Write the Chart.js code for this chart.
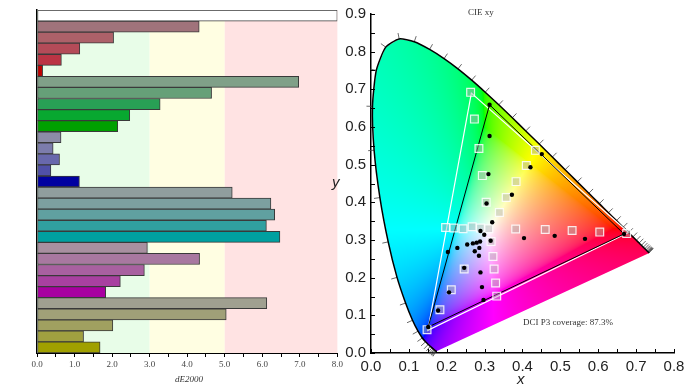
<!DOCTYPE html>
<html>
<head>
<meta charset="utf-8">
<script src="https://cdn.jsdelivr.net/npm/chart.js@4/dist/chart.umd.min.js"></script>
<style>
  html, body { margin: 0; padding: 0; background: #fff; }
  #wrap { position: relative; width: 693px; height: 390px; overflow: hidden; }
  canvas { position: absolute; top: 0; }
  #left { left: 0; }
  #right { left: 330px; }
  .lbl { position: absolute; white-space: nowrap; color: #333; line-height: 1; }
  .serif { font-family: 'Liberation Serif', serif; font-size: 9px; }
  .axt { font-family: 'Liberation Sans', Arial, sans-serif; font-size: 15px; font-style: italic; color: #222; }
</style>
</head>
<body>
<div id="wrap">
  <canvas id="left" width="345" height="390"></canvas>
  <canvas id="right" width="363" height="390"></canvas>
  <div class="lbl serif" style="left:468px; top:8px;">CIE xy</div>
  <div class="lbl serif" style="left:523px; top:318px;">DCI P3 coverage: 87.3%</div>
  <div class="lbl serif" style="left:175px; top:375px; font-style:italic;">dE2000</div>
  <div class="lbl axt" style="left:517px; top:371px;">x</div>
  <div class="lbl axt" style="left:332px; top:174px;">y</div>
</div>
<script>
// ---- dE2000 bars (left) ----
const patchNames = [
  'White',
  'Red 20', 'Red 40', 'Red 60', 'Red 80', 'Red 100',
  'Green 20', 'Green 40', 'Green 60', 'Green 80', 'Green 100',
  'Blue 20', 'Blue 40', 'Blue 60', 'Blue 80', 'Blue 100',
  'Cyan 20', 'Cyan 40', 'Cyan 60', 'Cyan 80', 'Cyan 100',
  'Magenta 20', 'Magenta 40', 'Magenta 60', 'Magenta 80', 'Magenta 100',
  'Yellow 20', 'Yellow 40', 'Yellow 60', 'Yellow 80', 'Yellow 100'
];
const dEValues = [
  8.0,
  4.32, 2.04, 1.14, 0.65, 0.15,
  6.97, 4.65, 3.28, 2.47, 2.15,
  0.64, 0.43, 0.60, 0.37, 1.13,
  5.20, 6.23, 6.33, 6.11, 6.47,
  2.94, 4.33, 2.86, 2.22, 1.83,
  6.12, 5.04, 2.02, 1.24, 1.68
];
const barColors = [
  '#ffffff',
  '#a0737b', '#ad6169', '#b44b58', '#bb3444', '#c00000',
  '#80a088', '#66a078', '#28a055', '#08a830', '#00a000',
  '#8c8ca8', '#7c7cac', '#6868ac', '#5050a8', '#0000a0',
  '#909e9e', '#7ca0a0', '#60a0a0', '#30a0a0', '#00a0a0',
  '#a890a0', '#a878a0', '#a860a0', '#a840a0', '#a800a0',
  '#a0a090', '#a0a078', '#a0a060', '#a0a040', '#a0a000'
];
const dEZones = [[0, 3, '#e8fde8'], [3, 5, '#fffee2'], [5, 8, '#ffe3e3']];

// ---- CIE xy (right) ----
// CIE 1931 2° spectral locus, 380–700 nm every 5 nm
const locus = [
  [0.1741,0.0050],[0.1740,0.0050],[0.1738,0.0049],[0.1736,0.0049],[0.1733,0.0048],
  [0.1730,0.0048],[0.1726,0.0048],[0.1721,0.0048],[0.1714,0.0051],[0.1703,0.0058],
  [0.1689,0.0069],[0.1669,0.0086],[0.1644,0.0109],[0.1611,0.0138],[0.1566,0.0177],
  [0.1510,0.0227],[0.1440,0.0297],[0.1355,0.0399],[0.1241,0.0578],[0.1096,0.0868],
  [0.0913,0.1327],[0.0687,0.2007],[0.0454,0.2950],[0.0235,0.4127],[0.0082,0.5384],
  [0.0039,0.6548],[0.0139,0.7502],[0.0389,0.8120],[0.0743,0.8338],[0.1142,0.8262],
  [0.1547,0.8059],[0.1929,0.7816],[0.2296,0.7543],[0.2658,0.7243],[0.3016,0.6923],
  [0.3373,0.6589],[0.3731,0.6245],[0.4087,0.5896],[0.4441,0.5547],[0.4788,0.5202],
  [0.5125,0.4866],[0.5448,0.4544],[0.5752,0.4242],[0.6029,0.3965],[0.6270,0.3725],
  [0.6482,0.3514],[0.6658,0.3340],[0.6801,0.3197],[0.6915,0.3083],[0.7006,0.2993],
  [0.7079,0.2920],[0.7140,0.2859],[0.7190,0.2809],[0.7230,0.2770],[0.7260,0.2740],
  [0.7283,0.2717],[0.7300,0.2700],[0.7311,0.2689],[0.7320,0.2680],[0.7327,0.2673],
  [0.7334,0.2666],[0.7340,0.2660],[0.7344,0.2656],[0.7346,0.2654],[0.7347,0.2653]
];
const p3Gamut = [[0.680, 0.320], [0.265, 0.690], [0.150, 0.060]];
const measuredGamut = [[0.668, 0.316], [0.313, 0.659], [0.151, 0.069]];
const targetX = [0.263, 0.273, 0.285, 0.294, 0.304, 0.434, 0.410, 0.383, 0.357, 0.339,
  0.197, 0.219, 0.243, 0.267, 0.289, 0.311, 0.382, 0.460, 0.531, 0.604, 0.675,
  0.317, 0.322, 0.325, 0.329, 0.332, 0.246, 0.212, 0.182, 0.148];
const targetY = [0.692, 0.621, 0.543, 0.471, 0.400, 0.538, 0.498, 0.455, 0.413, 0.373,
  0.333, 0.332, 0.330, 0.335, 0.332, 0.330, 0.329, 0.328, 0.325, 0.321, 0.317,
  0.296, 0.256, 0.223, 0.186, 0.151, 0.223, 0.168, 0.115, 0.062];
const measuredX = [0.313, 0.313, 0.310, 0.305, 0.451, 0.421, 0.372, 0.320, 0.289, 0.299,
  0.404, 0.485, 0.565, 0.668, 0.316, 0.288, 0.279, 0.269, 0.254, 0.228, 0.286, 0.274,
  0.203, 0.285, 0.246, 0.289, 0.293, 0.297, 0.206, 0.177, 0.151];
const measuredY = [0.659, 0.576, 0.475, 0.397, 0.528, 0.493, 0.420, 0.347, 0.324, 0.314,
  0.305, 0.311, 0.303, 0.316, 0.298, 0.296, 0.293, 0.291, 0.288, 0.279, 0.279, 0.270,
  0.268, 0.258, 0.226, 0.214, 0.175, 0.141, 0.161, 0.113, 0.069];

const toPts = (xs, ys) => xs.map((x, i) => ({ x, y: ys[i] }));
const closed = tri => tri.concat([tri[0]]).map(p => ({ x: p[0], y: p[1] }));

// colored zones behind the bars
const zonesPlugin = {
  id: 'zones',
  beforeDatasetsDraw(chart) {
    const { ctx, chartArea: a, scales: { x } } = chart;
    ctx.save();
    dEZones.forEach(([from, to, color]) => {
      const x0 = x.getPixelForValue(from), x1 = x.getPixelForValue(to);
      ctx.fillStyle = color;
      ctx.fillRect(x0, a.top, x1 - x0, a.bottom - a.top);
    });
    ctx.restore();
  }
};

new Chart(document.getElementById('left'), {
  type: 'bar',
  data: {
    labels: patchNames,
    datasets: [{
      data: dEValues,
      backgroundColor: barColors,
      borderColor: '#3a3a3a',
      borderWidth: 1,
      borderSkipped: false,
      barPercentage: 1,
      categoryPercentage: 1
    }]
  },
  options: {
    indexAxis: 'y',
    responsive: false,
    animation: false,
    layout: { padding: { top: 10, right: 4, left: 0, bottom: 0 } },
    plugins: { legend: { display: false }, tooltip: { enabled: false } },
    scales: {
      x: {
        min: 0, max: 8,
        afterFit(s) { s.height = 37; },
        border: { color: '#000', width: 1 },
        grid: { drawOnChartArea: false, tickLength: 4, color: '#000' },
        ticks: {
          stepSize: 0.5, autoSkip: false, maxRotation: 0, padding: 2,
          color: '#444', font: { family: 'Liberation Serif', size: 9 },
          callback: v => (Math.abs(v - Math.round(v)) < 1e-6 ? v.toFixed(1) : '')
        }
      },
      y: {
        afterFit(s) { s.width = 37; },
        border: { color: '#000', width: 1.5 },
        grid: { drawOnChartArea: false, drawTicks: false },
        ticks: { display: false }
      }
    }
  },
  plugins: [zonesPlugin]
});

// chromaticity -> display colour (out-of-gamut desaturated by adding white)
function xyToRgb(x, y) {
  if (y <= 0.0001) return [255, 255, 255];
  const X = x / y, Y = 1, Z = (1 - x - y) / y;
  let r = 3.2406 * X - 1.5372 * Y - 0.4986 * Z;
  let g = -0.9689 * X + 1.8758 * Y + 0.0415 * Z;
  let b = 0.0557 * X - 0.2040 * Y + 1.0570 * Z;
  const lo = Math.min(r, g, b, 0);
  r -= lo; g -= lo; b -= lo;
  const m = Math.max(r, g, b) || 1;
  const gam = c => {
    c = c / m;
    return Math.round(255 * (c <= 0.0031308 ? 12.92 * c : 1.055 * Math.pow(c, 1 / 2.4) - 0.055));
  };
  return [gam(r), gam(g), gam(b)];
}

const gamutPlugin = {
  id: 'gamutFill',
  beforeDatasetsDraw(chart) {
    const { ctx, chartArea: a, scales: { x, y } } = chart;
    const w = Math.ceil(a.right - a.left), h = Math.ceil(a.bottom - a.top);
    const off = document.createElement('canvas');
    off.width = w; off.height = h;
    const octx = off.getContext('2d');
    const img = octx.createImageData(w, h);
    for (let j = 0; j < h; j++) {
      const cy = y.getValueForPixel(a.top + j + 0.5);
      for (let i = 0; i < w; i++) {
        const cx = x.getValueForPixel(a.left + i + 0.5);
        const [r, g, b] = xyToRgb(cx, cy);
        const k = (j * w + i) * 4;
        img.data[k] = r; img.data[k + 1] = g; img.data[k + 2] = b; img.data[k + 3] = 255;
      }
    }
    octx.putImageData(img, 0, 0);

    ctx.save();
    ctx.beginPath();
    locus.forEach((p, k) => {
      const px = x.getPixelForValue(p[0]), py = y.getPixelForValue(p[1]);
      k ? ctx.lineTo(px, py) : ctx.moveTo(px, py);
    });
    ctx.closePath();
    ctx.clip();
    ctx.drawImage(off, a.left, a.top);
    ctx.restore();

    // wavelength ticks pointing outward
    ctx.save();
    ctx.strokeStyle = '#444';
    ctx.lineWidth = 0.8;
    const wx = x.getPixelForValue(0.3333), wy = y.getPixelForValue(0.3333);
    for (let k = 1; k < locus.length - 1; k++) {
      const px = x.getPixelForValue(locus[k][0]), py = y.getPixelForValue(locus[k][1]);
      const tx = x.getPixelForValue(locus[k + 1][0]) - x.getPixelForValue(locus[k - 1][0]);
      const ty = y.getPixelForValue(locus[k + 1][1]) - y.getPixelForValue(locus[k - 1][1]);
      let nx = -ty, ny = tx;
      const len = Math.hypot(nx, ny);
      if (len < 0.5) continue;
      nx /= len; ny /= len;
      if ((px - wx) * nx + (py - wy) * ny < 0) { nx = -nx; ny = -ny; }
      ctx.beginPath();
      ctx.moveTo(px, py);
      ctx.lineTo(px + nx * 6, py + ny * 6);
      ctx.stroke();
    }
    ctx.restore();
  },
  afterDraw(chart) {
    // inward minor ticks every 0.05
    const { ctx, chartArea: a, scales: { x, y } } = chart;
    ctx.save();
    ctx.strokeStyle = '#000';
    ctx.lineWidth = 1;
    for (let v = 0; v <= 0.8001; v += 0.05) {
      const px = Math.round(x.getPixelForValue(v)) + 0.5;
      ctx.beginPath(); ctx.moveTo(px, a.bottom); ctx.lineTo(px, a.bottom - 4); ctx.stroke();
    }
    for (let v = 0; v <= 0.9001; v += 0.05) {
      const py = Math.round(y.getPixelForValue(v)) + 0.5;
      ctx.beginPath(); ctx.moveTo(a.left, py); ctx.lineTo(a.left + 4, py); ctx.stroke();
    }
    ctx.restore();
  }
};

const axisTicks = {
  color: '#222',
  padding: 5,
  font: { family: 'Liberation Sans', size: 15 },
  callback: v => v.toFixed(1)
};

new Chart(document.getElementById('right'), {
  type: 'scatter',
  data: {
    datasets: [
      { data: locus.map(p => ({ x: p[0], y: p[1] })), showLine: true, borderColor: '#000',
        borderWidth: 1.5, pointRadius: 0, tension: 0.2, order: 5 },
      { data: closed(p3Gamut), showLine: true, borderColor: '#fff', borderWidth: 1.2,
        pointRadius: 0, order: 4 },
      { data: closed(measuredGamut), showLine: true, borderColor: '#000', borderWidth: 1,
        pointRadius: 0, order: 3 },
      { data: toPts(targetX, targetY), pointStyle: 'rect', pointRadius: 5.5,
        backgroundColor: 'rgba(175,175,175,0.45)', borderColor: 'rgba(255,255,255,0.85)',
        borderWidth: 1.2, order: 2 },
      { data: toPts(measuredX, measuredY), pointRadius: 2.2, backgroundColor: '#000',
        borderWidth: 0, order: 1 }
    ]
  },
  options: {
    responsive: false,
    animation: false,
    layout: { padding: { top: 11, right: 19, left: 0, bottom: 0 } },
    plugins: { legend: { display: false }, tooltip: { enabled: false } },
    scales: {
      x: {
        type: 'linear', min: 0, max: 0.8,
        afterFit(s) { s.height = 37; },
        border: { color: '#000', width: 1.5 },
        grid: { drawOnChartArea: false, drawTicks: false },
        ticks: Object.assign({ stepSize: 0.1, maxRotation: 0 }, axisTicks)
      },
      y: {
        type: 'linear', min: 0, max: 0.9,
        afterFit(s) { s.width = 41; },
        border: { color: '#000', width: 1.5 },
        grid: { drawOnChartArea: false, drawTicks: false },
        ticks: Object.assign({ stepSize: 0.1 }, axisTicks)
      }
    }
  },
  plugins: [gamutPlugin]
});
</script>
</body>
</html>
